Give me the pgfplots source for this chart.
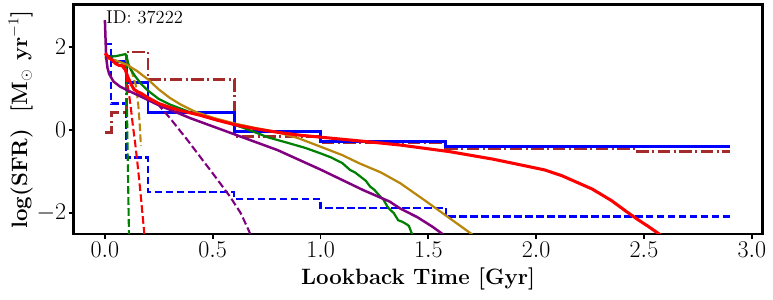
\documentclass[border=0pt]{standalone}
\usepackage{pgfplots}
\pgfplotsset{compat=1.18}
\usetikzlibrary{calc}
\definecolor{dgold}{RGB}{184,134,11}
\definecolor{brn}{RGB}{165,42,42}
\definecolor{mgreen}{RGB}{0,128,0}
\definecolor{mpurple}{RGB}{128,0,128}
\begin{document}
\begin{tikzpicture}
\begin{axis}[
 scale only axis, width=496pt, height=165pt,
 xmin=-0.145, xmax=3.05, ymin=-2.5, ymax=3.02,
 xtick={0,0.5,1,1.5,2,2.5,3}, ytick={-2,0,2},
 xtick pos=bottom, ytick pos=left,
 tick align=outside, major tick length=3.6pt,
 every tick/.style={black, line width=1.4pt},
 axis line style={line width=2pt},
 tick label style={font=\fontsize{16}{19}\selectfont},
 xticklabel style={inner sep=2pt, /pgf/number format/.cd, fixed, fixed zerofill, precision=1},
 yticklabel style={inner sep=1.5pt},
 xlabel={\textbf{Lookback Time [Gyr]}},
 ylabel={\textbf{log(SFR)\ \ [M$_\odot$ yr$^{-1}$]}},
 label style={font=\fontsize{16}{19}\selectfont},
 xlabel style={at={(axis description cs:0.5,-0.195)}, anchor=center},
 ylabel style={at={(axis description cs:-0.077,0.5)}, anchor=center},
 clip=true,
]
% blue dashed steps
\addplot[blue, line width=1.5pt, dash pattern=on 5.5pt off 2.4pt, const plot mark left] coordinates {
(0,2.07) (0.03,0.64) (0.1,-0.66) (0.2,-1.49) (0.6,-1.65) (1.0,-1.87) (1.58,-2.08) (2.9,-2.08)};
% brown dash-dot steps
\addplot[brn, line width=2pt, dash pattern=on 9pt off 2.5pt on 1.5pt off 2.5pt, const plot mark left] coordinates {
(0,-0.05) (0.03,0.42) (0.1,1.88) (0.2,1.22) (0.6,-0.15) (1.0,-0.3) (1.58,-0.44) (2.47,-0.51) (2.9,-0.51)};
% blue solid steps
\addplot[blue, line width=2pt, const plot mark left] coordinates {
(0,1.77) (0.03,1.66) (0.1,1.15) (0.2,0.42) (0.6,-0.04) (1.0,-0.28) (1.58,-0.40) (2.9,-0.40)};
% green dashed
\addplot[mgreen, line width=1.5pt, dash pattern=on 5.5pt off 2.4pt] coordinates {
(0.098,1.82) (0.101,1.0) (0.104,0.0) (0.107,-1.0) (0.11,-2.0) (0.112,-2.6)};
% gold dashed
\addplot[dgold, line width=1.5pt, dash pattern=on 5.5pt off 2.4pt] coordinates {
(0.1,1.7) (0.125,1.4) (0.145,1.05) (0.155,0.6) (0.162,0.1) (0.167,-0.38)};
% purple dashed
\addplot[mpurple, line width=1.5pt, dash pattern=on 5.5pt off 2.4pt] coordinates {
(0.15,0.86) (0.2,0.74) (0.25,0.6) (0.3,0.3) (0.383,-0.24) (0.45,-0.7) (0.5,-1.04) (0.58,-1.6) (0.63,-2.0) (0.67,-2.45) (0.68,-2.6)};
% red dashed
\addplot[red, line width=1.5pt, dash pattern=on 5.5pt off 2.4pt] coordinates {
(0.09,1.6) (0.1,1.3) (0.118,0.64) (0.13,0.1) (0.14,-0.3) (0.15,-0.75) (0.165,-1.5) (0.182,-2.45) (0.184,-2.6)};
% green solid
\addplot[mgreen, line width=1.6pt] coordinates {
(0,1.76) (0.05,1.78) (0.095,1.83) (0.1,1.8) (0.108,1.6) (0.118,1.48) (0.14,1.3) (0.17,1.1) (0.2,0.95) (0.25,0.75) (0.3,0.62) (0.4,0.42) (0.5,0.28) (0.56,0.2) (0.65,0.04) (0.76,-0.18) (0.85,-0.31) (0.93,-0.43) (1.0,-0.56) (1.05,-0.66) (1.08,-0.74) (1.1,-0.79) (1.137,-0.96) (1.16,-1.02) (1.19,-1.14) (1.21,-1.22) (1.23,-1.36) (1.25,-1.44) (1.277,-1.6) (1.29,-1.66) (1.31,-1.84) (1.323,-1.92) (1.34,-2.0) (1.36,-2.17) (1.38,-2.21) (1.4,-2.27) (1.41,-2.31) (1.424,-2.5) (1.43,-2.6)};
% gold solid
\addplot[dgold, line width=1.6pt] coordinates {
(0,1.75) (0.05,1.68) (0.1,1.58) (0.15,1.42) (0.2,1.22) (0.25,0.98) (0.3,0.78) (0.35,0.62) (0.42,0.44) (0.5,0.3) (0.6,0.16) (0.7,0.05) (0.8,-0.05) (0.9,-0.2) (1.0,-0.4) (1.1,-0.6) (1.18,-0.8) (1.28,-1.02) (1.37,-1.28) (1.48,-1.68) (1.59,-2.09) (1.7,-2.5) (1.71,-2.56)};
% purple solid
\addplot[mpurple, line width=1.8pt] coordinates {
(0,2.65) (0.003,2.2) (0.006,1.75) (0.012,1.5) (0.02,1.35) (0.04,1.17) (0.07,1.05) (0.1,0.97) (0.15,0.85) (0.25,0.6) (0.4,0.28) (0.6,-0.1) (0.8,-0.48) (1.0,-0.95) (1.2,-1.45) (1.32,-1.72) (1.37,-1.89) (1.45,-2.1) (1.52,-2.33) (1.565,-2.5) (1.57,-2.55)};
% red solid
\addplot[red, line width=2.2pt] coordinates {
(0,1.85) (0.01,1.8) (0.02,1.74) (0.035,1.68) (0.05,1.6) (0.065,1.56) (0.08,1.55) (0.095,1.45) (0.105,1.3) (0.12,1.12) (0.135,0.98) (0.15,0.93) (0.17,0.88) (0.2,0.78) (0.25,0.64) (0.3,0.55) (0.35,0.47) (0.44,0.36) (0.52,0.24) (0.61,0.12) (0.7,0.03) (0.81,-0.06) (0.9,-0.12) (1.0,-0.17) (1.2,-0.27) (1.37,-0.36) (1.6,-0.52) (1.8,-0.7) (1.93,-0.84) (2.04,-0.96) (2.12,-1.1) (2.19,-1.26) (2.26,-1.42) (2.35,-1.7) (2.41,-1.93) (2.47,-2.15) (2.52,-2.32) (2.57,-2.5) (2.58,-2.56)};
\node[anchor=west, inner sep=0pt, font=\fontsize{13.3}{16}\selectfont] at (axis cs:0.005,2.72) {ID: 37222};
\end{axis}
\pgfresetboundingbox
\useasboundingbox ($(current axis.south west)+(-53pt,-47pt)$) rectangle ($(current axis.north east)+(7.5pt,3.4pt)$);
\end{tikzpicture}
\end{document}
